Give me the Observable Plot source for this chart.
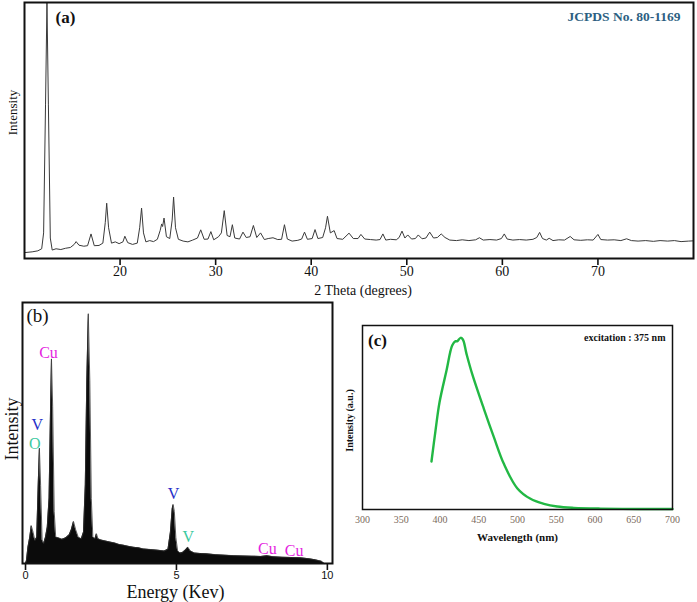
<!DOCTYPE html>
<html>
<head>
<meta charset="utf-8">
<script src="https://cdn.jsdelivr.net/npm/d3@7"></script>
<script src="https://cdn.jsdelivr.net/npm/@observablehq/plot@0.6"></script>
<style>
  html, body { margin: 0; padding: 0; background: #fff; }
  #wrap { position: relative; width: 697px; height: 602px; overflow: hidden; background: #fff; }
  .panel { position: absolute; }
  svg { overflow: visible; }
</style>
</head>
<body>
<div id="wrap">
  <div class="panel" id="pa" style="left:0;top:0"></div>
  <div class="panel" id="pb" style="left:0;top:290px"></div>
  <div class="panel" id="pc" style="left:340px;top:310px"></div>
</div>
<script>
// ---------- (a) XRD pattern ----------
const xrdTheta = [10.0,10.8,11.4,11.8,12.0,12.2,12.35,12.5,12.7,12.9,13.3,13.8,14.3,14.8,15.2,15.4,15.7,16.2,16.6,16.96,17.3,17.8,18.2,18.45,18.6,18.8,19.1,19.5,19.9,20.3,20.5,20.8,21.3,21.8,22.05,22.25,22.45,22.7,23.1,23.5,23.9,24.2,24.35,24.45,24.6,24.85,25.2,25.45,25.6,25.8,26.1,26.6,27.1,27.6,28.1,28.44,28.8,29.2,29.5,29.8,30.3,30.6,30.9,31.2,31.5,31.75,32.0,32.5,32.86,33.2,33.6,33.95,34.3,34.7,35.1,35.5,36.0,36.5,36.9,37.2,37.5,38.0,38.6,39.0,39.3,39.6,40.1,40.4,40.7,41.2,41.5,41.7,42.0,42.4,42.7,43.3,43.96,44.4,44.9,45.2,45.6,46.2,46.8,47.2,47.5,47.8,48.3,48.9,49.2,49.5,49.8,50.1,50.5,50.9,51.2,51.6,52.0,52.4,52.8,53.2,53.6,54.0,54.5,55.2,55.8,56.5,57.2,57.6,58.0,58.7,59.4,59.9,60.2,60.5,61.1,61.8,62.5,63.2,63.6,63.9,64.2,64.6,64.9,65.3,65.9,66.5,67.1,67.5,68.2,68.9,69.5,70.0,70.3,71.0,71.7,72.4,73.0,73.5,74.2,75.0,75.8,76.5,77.3,78.0,78.7,79.5,80.0];
const xrdIntensity = [2.3,2.6,3.0,3.8,10,60,100,60,8,3.3,3.8,3.5,4.0,4.3,5.5,6.6,5.2,4.8,5.0,9.6,5.0,5.1,6.0,14,21.6,12,6.0,6.5,5.8,6.5,8.7,6.2,5.5,6.0,12,19.7,10,6.5,7.0,6.6,7.5,11,13.5,12.5,15.8,8.5,7.8,15,24,12,7.5,6.8,6.5,7.2,8.0,11.2,7.5,7.6,10.5,7.3,8.5,10,18.7,9.0,8.5,13.2,8.0,7.6,10.3,8.2,8.5,12.9,8.2,10,7.4,7.8,8.1,7.4,7.5,13.2,7.6,6.8,7.1,7.6,10.3,7.5,7.8,11.3,7.8,8.2,12,16.5,10,10.9,7.8,7.5,9.9,7.8,7.8,9.4,7.6,7.4,7.2,7.4,9.6,7.2,7.5,7.3,8.2,10.7,8.0,9.2,7.6,7.8,9.2,7.7,8.0,10.3,8.0,8.2,9.6,8.2,7.2,7.0,7.3,7.0,7.3,8.1,7.2,7.4,7.2,7.8,9.6,7.6,7.2,7.4,7.2,7.5,8.2,10.2,7.8,7.2,7.9,7.0,7.3,7.2,8.6,7.3,7.1,7.3,7.2,9.4,7.4,7.2,7.3,7.0,7.7,7.0,6.8,7.0,6.7,7.0,6.8,7.0,6.6,6.8,6.9];
const xrdTicks = [20, 30, 40, 50, 60, 70];

// ---------- (b) EDS spectrum ----------
const edsEnergy = [0.0,0.03,0.08,0.14,0.19,0.25,0.31,0.37,0.42,0.46,0.50,0.55,0.60,0.66,0.72,0.78,0.83,0.86,0.90,0.95,1.0,1.1,1.2,1.27,1.35,1.45,1.52,1.59,1.66,1.75,1.85,1.92,1.98,2.03,2.08,2.13,2.18,2.23,2.30,2.35,2.40,2.5,2.65,2.8,2.95,3.1,3.25,3.4,3.58,3.75,3.9,4.1,4.3,4.46,4.6,4.72,4.80,4.86,4.89,4.93,4.98,5.04,5.12,5.2,5.3,5.38,5.46,5.6,5.8,6.0,6.3,6.6,6.9,7.2,7.5,7.8,8.0,8.2,8.5,8.8,9.1,9.4,9.6,9.8,9.9];
const edsCounts = [0,1.1,6.2,10,14.5,12,8.8,10,30,44.2,30,9,7.7,10,13.9,25,60,78.4,60,20,10.1,9.8,9.3,9.5,10,11,13,16.1,13,10,9.5,12,30,70,95.7,70,25,10.1,9.5,11.4,9.5,9.0,8.6,8.2,7.9,7.3,7.0,6.6,6.2,6.0,5.6,5.4,5.2,5.0,4.8,5.5,12,21,22.6,20,10,4.8,4.0,4.2,5.2,6.2,4.8,4.0,3.8,3.7,3.4,3.2,3.0,2.9,2.8,2.7,3.0,2.6,2.4,2.3,2.2,1.8,1.4,0.9,0];
const edsTicks = [0, 5, 10];
const edsLabelText = ["Cu", "V", "O", "V", "V", "Cu", "Cu"];
const edsLabelKind = ["Cu", "V Kα", "O", "V Kα", "V Kβ", "Cu", "Cu"];
const edsLabelEnergy = [0.76, 0.39, 0.31, 4.9, 5.39, 8.01, 8.9];
const edsLabelLevel = [80.8, 53.3, 46.0, 26.8, 10.1, 5.7, 4.7];
const edsKinds = ["Cu", "V Kα", "O", "V Kβ"];

// ---------- (c) PL spectrum ----------
const plWavelength = [389,394.2,399.4,408.4,415.7,420,422,426.5,429.5,434.2,441.5,456.6,469.5,482.4,499.6,516.8,534,551.2,572.7,607,659,700];
const plIntensity = [26.1,42.9,58.3,75.5,89.1,91.5,91.4,93.3,92.4,84.6,73.7,54.7,39.3,24.8,11.6,5.8,3.1,1.6,0.9,0.5,0.3,0.3];
const plTicks = [300, 350, 400, 450, 500, 550, 600, 650, 700];

const serif = "'Liberation Serif', 'Times New Roman', serif";
const sans = "'Liberation Sans', Arial, sans-serif";

const xrd = xrdTheta.map((t, i) => ({t, v: xrdIntensity[i]}));
const eds = edsEnergy.map((e, i) => ({e, c: edsCounts[i]}));
const edsLabels = edsLabelText.map((s, i) => ({s, k: edsLabelKind[i], e: edsLabelEnergy[i], y: edsLabelLevel[i]}));
const pl = plWavelength.map((w, i) => ({w, v: plIntensity[i]}));

const pa = Plot.plot({
  width: 697, height: 300,
  marginLeft: 24, marginRight: 4, marginTop: 2, marginBottom: 42,
  style: {fontFamily: serif, fontSize: "14px", background: "transparent", color: "#111"},
  x: {domain: [10, 80]},
  y: {domain: [0, 100], axis: null},
  marks: [
    Plot.lineY(xrd, {x: "t", y: "v", stroke: "#3a3a3a", strokeWidth: 1, clip: true}),
    Plot.frame({stroke: "#111", strokeWidth: 2}),
    Plot.axisX({ticks: xrdTicks, tickSize: 7, tickPadding: 1, fontSize: 14, label: null, strokeWidth: 1.6, fill: "#111"}),
    Plot.text(["(a)"], {frameAnchor: "top-left", textAnchor: "start", lineAnchor: "middle", dx: 31, dy: 15, fontSize: 17, fontWeight: "bold", fill: "#111"}),
    Plot.text(["JCPDS No. 80-1169"], {frameAnchor: "top-right", textAnchor: "end", lineAnchor: "middle", dx: -13, dy: 14, fontSize: 13.5, fontWeight: "bold", fill: "#2d5f82"}),
    Plot.text(["2 Theta (degrees)"], {frameAnchor: "bottom", textAnchor: "middle", lineAnchor: "middle", dx: 4, dy: 32, fontSize: 14, fill: "#111"}),
    Plot.text(["Intensity"], {frameAnchor: "left", textAnchor: "middle", lineAnchor: "middle", rotate: -90, dx: -12, dy: -18, fontSize: 13, fill: "#111"})
  ]
});
document.getElementById("pa").appendChild(pa);

const pb = Plot.plot({
  width: 340, height: 310,
  marginLeft: 22, marginRight: 8, marginTop: 12, marginBottom: 37,
  style: {fontFamily: sans, fontSize: "11px", background: "transparent", color: "#111"},
  x: {domain: [-0.1, 10.17]},
  y: {domain: [0, 100], axis: null},
  color: {domain: edsKinds, range: ["#e41fe0", "#2630c8", "#3cc9a0", "#3cc9a0"]},
  marks: [
    Plot.areaY(eds, {x: "e", y: "c", fill: "#0b0b0b"}),
    Plot.lineY(eds, {x: "e", y: "c", stroke: "#333", strokeWidth: 0.8}),
    Plot.frame({stroke: "#111", strokeWidth: 2}),
    Plot.axisX({ticks: edsTicks, tickSize: 7, tickPadding: 1, fontSize: 11, label: null, strokeWidth: 1.6, fill: "#111"}),
    Plot.text(edsLabels, {x: "e", y: "y", text: "s", fill: "k", fontSize: 16, fontFamily: serif, textAnchor: "middle", lineAnchor: "middle"}),
    Plot.text(["(b)"], {frameAnchor: "top-left", textAnchor: "start", lineAnchor: "middle", dx: 4, dy: 13, fontSize: 19, fontFamily: serif, fill: "#111"}),
    Plot.text(["Energy (Kev)"], {frameAnchor: "bottom", textAnchor: "middle", lineAnchor: "middle", dx: -2, dy: 29, fontSize: 18, fontFamily: serif, fill: "#111"}),
    Plot.text(["Intensity"], {frameAnchor: "left", textAnchor: "middle", lineAnchor: "middle", rotate: -90, dx: -10, dy: -4, fontSize: 18, fontFamily: serif, fill: "#111"})
  ]
});
document.getElementById("pb").appendChild(pb);

const pc = Plot.plot({
  width: 357, height: 240,
  marginLeft: 22, marginRight: 25, marginTop: 15, marginBottom: 41,
  style: {fontFamily: serif, fontSize: "10px", background: "transparent", color: "#111"},
  x: {domain: [300, 700]},
  y: {domain: [0, 100], axis: null},
  marks: [
    Plot.lineY(pl, {x: "w", y: "v", stroke: "#22b844", strokeWidth: 2.4, curve: "catmull-rom"}),
    Plot.frame({stroke: "#111", strokeWidth: 1.5}),
    Plot.axisX({ticks: plTicks, tickSize: 0, tickPadding: 6, fontSize: 10, label: null, fill: "#7a6a5c"}),
    Plot.text(["(c)"], {frameAnchor: "top-left", textAnchor: "middle", lineAnchor: "middle", dx: 15, dy: 15, fontSize: 17, fontWeight: "bold", fill: "#111"}),
    Plot.text(["excitation : 375 nm"], {frameAnchor: "top-right", textAnchor: "end", lineAnchor: "middle", dx: -7, dy: 12, fontSize: 10, fontWeight: "bold", fill: "#111"}),
    Plot.text(["Wavelength (nm)"], {frameAnchor: "bottom", textAnchor: "middle", lineAnchor: "middle", dy: 28, fontSize: 11, fontWeight: "bold", fill: "#111"}),
    Plot.text(["Intensity (a.u.)"], {frameAnchor: "left", textAnchor: "middle", lineAnchor: "middle", rotate: -90, dx: -13, dy: 3, fontSize: 10, fontWeight: "bold", fill: "#111"})
  ]
});
document.getElementById("pc").appendChild(pc);
</script>
</body>
</html>
